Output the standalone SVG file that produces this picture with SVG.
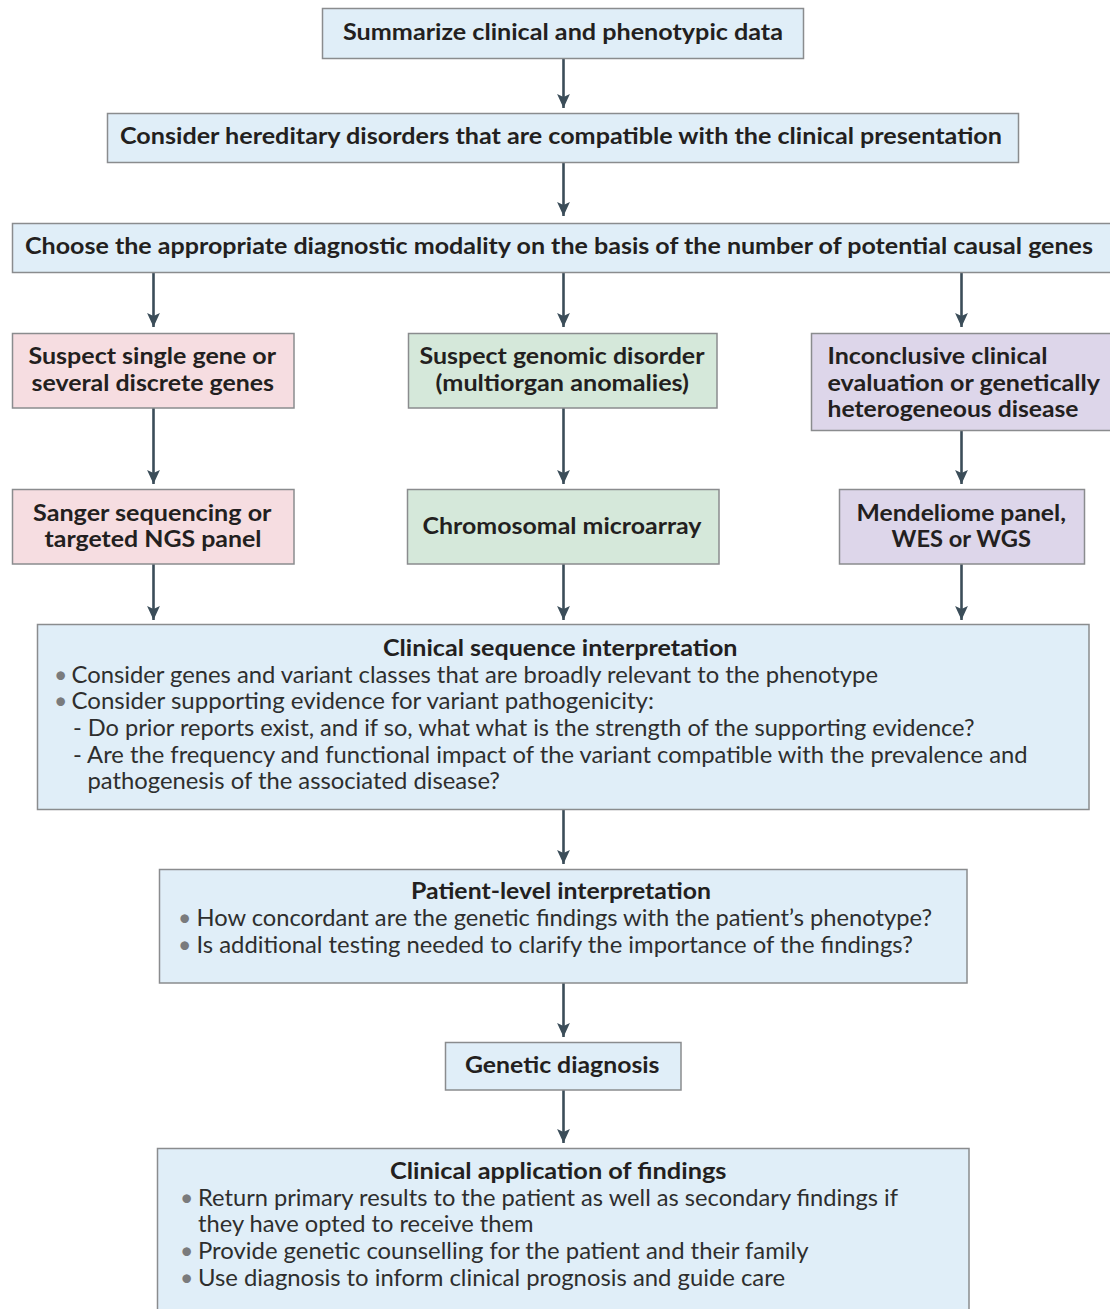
<svg xmlns="http://www.w3.org/2000/svg" width="1110" height="1309" viewBox="0 0 1110 1309">
<defs>
<style>
.box{stroke:#8a8c8e;stroke-width:1.5}
.blue{fill:#e0eef8}
.pink{fill:#f6dde1}
.green{fill:#d5e8da}
.purple{fill:#ddd6ea}
.h{font-family:Lato,"Open Sans","Liberation Sans",sans-serif;font-weight:700;font-size:23px;fill:#231f20}
.t{font-family:Lato,"Open Sans","Liberation Sans",sans-serif;font-weight:400;font-size:23px;fill:#2e2e2e}
.dot{fill:#7a7b7d}
.conn{stroke:#3b4d59;stroke-width:2.6;fill:none;marker-end:url(#ah)}
</style>
<marker id="ah" markerUnits="userSpaceOnUse" markerWidth="14" markerHeight="14" viewBox="0 0 12 12" refX="12" refY="6" orient="auto">
<path d="M0,0.5 L12,6 L0,11.5 L2.5,6 Z" fill="#3b4d59"/>
</marker>
</defs>
<rect width="1110" height="1309" fill="#ffffff"/>

<g id="connectors">
<line class="conn" x1="563.5" y1="58" x2="563.5" y2="108"/>
<line class="conn" x1="563.5" y1="163" x2="563.5" y2="216"/>
<line class="conn" x1="153.5" y1="272" x2="153.5" y2="327"/>
<line class="conn" x1="563.5" y1="272" x2="563.5" y2="327"/>
<line class="conn" x1="961.5" y1="272" x2="961.5" y2="327"/>
<line class="conn" x1="153.5" y1="408" x2="153.5" y2="484"/>
<line class="conn" x1="563.5" y1="408" x2="563.5" y2="484"/>
<line class="conn" x1="961.5" y1="431" x2="961.5" y2="484"/>
<line class="conn" x1="153.5" y1="564" x2="153.5" y2="620"/>
<line class="conn" x1="563.5" y1="564" x2="563.5" y2="620"/>
<line class="conn" x1="961.5" y1="564" x2="961.5" y2="620"/>
<line class="conn" x1="563.5" y1="810" x2="563.5" y2="864"/>
<line class="conn" x1="563.5" y1="983" x2="563.5" y2="1037"/>
<line class="conn" x1="563.5" y1="1090" x2="563.5" y2="1143"/>
</g>

<g id="summarize">
<rect class="box blue" x="322.5" y="8.5" width="481" height="50"/>
<text class="h" x="343" y="40" textLength="440" lengthAdjust="spacingAndGlyphs">Summarize clinical and phenotypic data</text>
</g>

<g id="consider">
<rect class="box blue" x="107.5" y="113.5" width="911" height="49"/>
<text class="h" x="120" y="144" textLength="882" lengthAdjust="spacingAndGlyphs">Consider hereditary disorders that are compatible with the clinical presentation</text>
</g>

<g id="choose">
<rect class="box blue" x="12.5" y="223.5" width="1100" height="49"/>
<text class="h" x="25" y="254" textLength="1068" lengthAdjust="spacingAndGlyphs">Choose the appropriate diagnostic modality on the basis of the number of potential causal genes</text>
</g>

<g id="single-gene">
<rect class="box pink" x="12.5" y="333.5" width="281.5" height="74.5"/>
<text class="h" x="28.5" y="364" textLength="247.5" lengthAdjust="spacingAndGlyphs">Suspect single gene or</text>
<text class="h" x="31.5" y="391" textLength="242.5" lengthAdjust="spacingAndGlyphs">several discrete genes</text>
</g>

<g id="genomic">
<rect class="box green" x="408.5" y="333.5" width="308.5" height="74.5"/>
<text class="h" x="419.5" y="364" textLength="285" lengthAdjust="spacingAndGlyphs">Suspect genomic disorder</text>
<text class="h" x="435.5" y="391" textLength="253.5" lengthAdjust="spacingAndGlyphs">(multiorgan anomalies)</text>
</g>

<g id="inconclusive">
<rect class="box purple" x="811.5" y="333.5" width="301" height="97"/>
<text class="h" x="827.5" y="364" textLength="220" lengthAdjust="spacingAndGlyphs">Inconclusive clinical</text>
<text class="h" x="827.5" y="391" textLength="272.5" lengthAdjust="spacingAndGlyphs">evaluation or genetically</text>
<text class="h" x="827.5" y="417" textLength="251" lengthAdjust="spacingAndGlyphs">heterogeneous disease</text>
</g>

<g id="sanger">
<rect class="box pink" x="12.5" y="489.5" width="281.5" height="74.5"/>
<text class="h" x="33" y="520.5" textLength="238.5" lengthAdjust="spacingAndGlyphs">Sanger sequencing or</text>
<text class="h" x="44.5" y="547" textLength="217" lengthAdjust="spacingAndGlyphs">targeted NGS panel</text>
</g>

<g id="microarray">
<rect class="box green" x="407.5" y="489.5" width="311.5" height="74.5"/>
<text class="h" x="422.5" y="534" textLength="279" lengthAdjust="spacingAndGlyphs">Chromosomal microarray</text>
</g>

<g id="mendeliome">
<rect class="box purple" x="839.5" y="489.5" width="245" height="74.5"/>
<text class="h" x="856.5" y="520.5" textLength="209.5" lengthAdjust="spacingAndGlyphs">Mendeliome panel,</text>
<text class="h" x="891.5" y="547" textLength="139.5" lengthAdjust="spacingAndGlyphs">WES or WGS</text>
</g>

<g id="clinical-sequence">
<rect class="box blue" x="37.5" y="624.5" width="1051.5" height="185"/>
<text class="h" x="383" y="656" textLength="354.5" lengthAdjust="spacingAndGlyphs">Clinical sequence interpretation</text>
<text class="t dot" x="54" y="682.5">•</text>
<text class="t" x="71.5" y="682.5" textLength="806.5" lengthAdjust="spacingAndGlyphs">Consider genes and variant classes that are broadly relevant to the phenotype</text>
<text class="t dot" x="54" y="709">•</text>
<text class="t" x="71.5" y="709" textLength="582.5" lengthAdjust="spacingAndGlyphs">Consider supporting evidence for variant pathogenicity:</text>
<text class="t" x="73" y="736" textLength="901.5" lengthAdjust="spacingAndGlyphs">- Do prior reports exist, and if so, what what is the strength of the supporting evidence?</text>
<text class="t" x="73" y="762.5" textLength="954.5" lengthAdjust="spacingAndGlyphs">- Are the frequency and functional impact of the variant compatible with the prevalence and</text>
<text class="t" x="87.5" y="789" textLength="412.5" lengthAdjust="spacingAndGlyphs">pathogenesis of the associated disease?</text>
</g>

<g id="patient-level">
<rect class="box blue" x="159.5" y="869.5" width="807.5" height="113.5"/>
<text class="h" x="411" y="899" textLength="300" lengthAdjust="spacingAndGlyphs">Patient-level interpretation</text>
<text class="t dot" x="178" y="925.5">•</text>
<text class="t" x="196.5" y="925.5" textLength="735.5" lengthAdjust="spacingAndGlyphs">How concordant are the genetic findings with the patient’s phenotype?</text>
<text class="t dot" x="178" y="952.5">•</text>
<text class="t" x="196.5" y="952.5" textLength="716.5" lengthAdjust="spacingAndGlyphs">Is additional testing needed to clarify the importance of the findings?</text>
</g>

<g id="genetic-diagnosis">
<rect class="box blue" x="445.5" y="1042.5" width="235.5" height="47.5"/>
<text class="h" x="465" y="1073" textLength="194.5" lengthAdjust="spacingAndGlyphs">Genetic diagnosis</text>
</g>

<g id="clinical-application">
<rect class="box blue" x="157.5" y="1148.5" width="811.5" height="165"/>
<text class="h" x="390" y="1178.5" textLength="336.5" lengthAdjust="spacingAndGlyphs">Clinical application of findings</text>
<text class="t dot" x="180" y="1206">•</text>
<text class="t" x="198" y="1206" textLength="700" lengthAdjust="spacingAndGlyphs">Return primary results to the patient as well as secondary findings if</text>
<text class="t" x="198" y="1232" textLength="335.5" lengthAdjust="spacingAndGlyphs">they have opted to receive them</text>
<text class="t dot" x="180" y="1258.5">•</text>
<text class="t" x="198" y="1258.5" textLength="610.5" lengthAdjust="spacingAndGlyphs">Provide genetic counselling for the patient and their family</text>
<text class="t dot" x="180" y="1285.5">•</text>
<text class="t" x="198" y="1285.5" textLength="587" lengthAdjust="spacingAndGlyphs">Use diagnosis to inform clinical prognosis and guide care</text>
</g>
</svg>
